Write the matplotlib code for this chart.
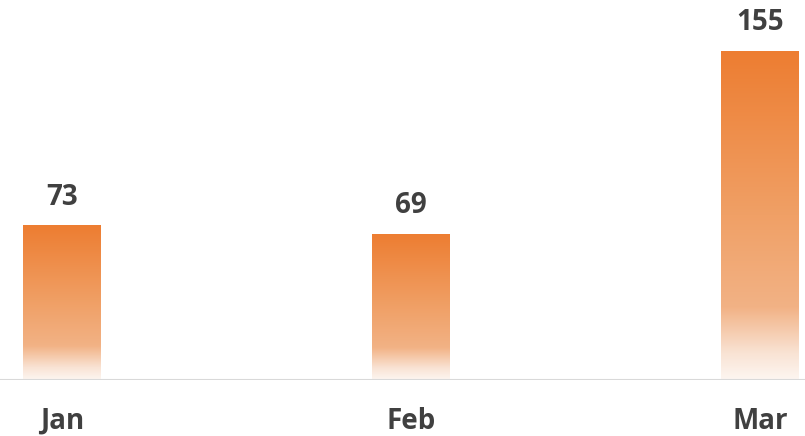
import numpy as np
import matplotlib
matplotlib.use("Agg")
import matplotlib.pyplot as plt
from matplotlib.colors import LinearSegmentedColormap

categories = ["Jan", "Feb", "Mar"]
values = [73, 69, 155]

W, H = 805, 436
fig = plt.figure(figsize=(W / 100, H / 100), dpi=100)
ax = fig.add_axes([0, (H - 380) / H, 1, 380 / H])
ax.set_xlim(-0.178, 2.129)
ax.set_ylim(0, 179)
ax.axis("off")

cmap = LinearSegmentedColormap.from_list(
    "g",
    [(0.0, "#FDF6F1"), (0.08, "#F9E3D4"), (0.22, "#F2B285"),
     (0.5, "#F0A066"), (1.0, "#ED7D31")])
grad = np.linspace(0, 1, 256).reshape(-1, 1)

font = dict(fontsize=20, fontweight="bold", color="#404040", family="Open Sans")

x = np.arange(len(categories))
bw = 0.2235
bars = ax.bar(x, values, width=bw, color="none", edgecolor="none")
for b, v in zip(bars, values):
    x0 = b.get_x()
    im = ax.imshow(grad, cmap=cmap, aspect="auto", origin="lower",
                   extent=[x0, x0 + bw, 0, v], interpolation="bilinear", zorder=2)
    im.set_clip_path(b)
    ax.annotate(str(v), (b.get_x() + bw / 2, v), xytext=(0, 28),
                textcoords="offset pixels", ha="center", va="center", **font)

ax.axhline(0, color="#D9D9D9", lw=1.5, zorder=3)
ax.set_xlim(-0.178, 2.129)
for xi, c in zip(x, categories):
    ax.annotate(c, (xi, 0), xytext=(0, -41), textcoords="offset pixels",
                ha="center", va="center", annotation_clip=False, **font)

fig.savefig("out.png", dpi=100)
